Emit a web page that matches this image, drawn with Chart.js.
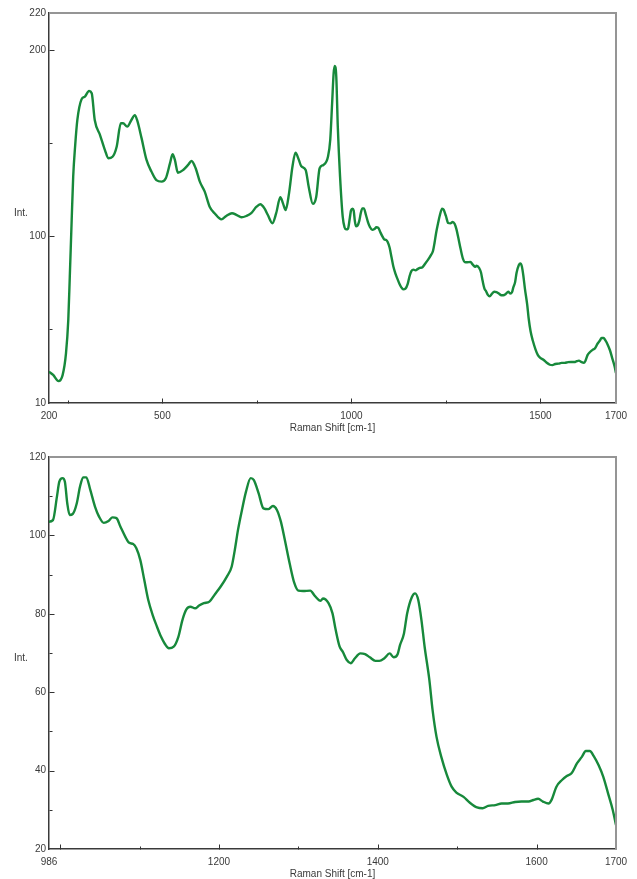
<!DOCTYPE html>
<html>
<head>
<meta charset="utf-8">
<script src="https://cdn.jsdelivr.net/npm/chart.js@4.4.1/dist/chart.umd.min.js"></script>
<style>
  html, body { margin: 0; padding: 0; background: #fff; overflow: hidden; }
  .panel { position: absolute; left: 0; width: 637px; }
</style>
</head>
<body>
<div class="panel" style="top:0;height:440px"><canvas id="fullChart"></canvas></div>
<div class="panel" style="top:440px;height:446px"><canvas id="zoomChart"></canvas></div>
<script>
// Raman spectrum
const ramanShift = [
  200, 211, 225, 236, 245, 251, 255, 260, 264, 269, 275, 286, 295, 306, 313, 321, 335, 348, 357, 368,
  379, 390, 396, 407, 418, 427, 433, 445, 458, 471, 484, 498, 509, 520, 527, 533, 541, 555, 568, 577,
  588, 599, 612, 625, 638, 656, 669, 684, 697, 709, 722, 735, 749, 759, 770, 779, 791, 801, 812, 819,
  826, 835, 844, 852, 861, 867, 879, 887, 898, 907, 916, 926, 938, 944, 949, 953, 956, 960, 964, 970,
  977, 982, 986, 991, 996, 999, 1003, 1006, 1009, 1012, 1016, 1021, 1025, 1029, 1033, 1038, 1044, 1049, 1055, 1061,
  1066, 1071, 1076, 1082, 1087, 1092, 1096, 1101, 1106, 1111, 1117, 1122, 1127, 1132, 1137, 1143, 1149, 1154, 1159, 1164,
  1170, 1175, 1181, 1188, 1195, 1202, 1210, 1216, 1220, 1224, 1229, 1234, 1240, 1244, 1250, 1256, 1262, 1268, 1273, 1278,
  1283, 1289, 1295, 1300, 1306, 1315, 1321, 1328, 1331, 1338, 1343, 1347, 1352, 1356, 1361, 1366, 1371, 1378, 1384, 1390,
  1397, 1402, 1408, 1415, 1420, 1425, 1428, 1433, 1437, 1443, 1447, 1451, 1455, 1459, 1465, 1469, 1474, 1480, 1487, 1493,
  1499, 1508, 1516, 1525, 1532, 1539, 1548, 1556, 1564, 1573, 1581, 1590, 1596, 1602, 1608, 1615, 1619, 1625, 1632, 1638,
  1644, 1651, 1657, 1662, 1667, 1672, 1678, 1684, 1690, 1696, 1700
];
const intensity = [
  26.9, 25.1, 21.8, 25.0, 36.8, 54.7, 78.0, 108.5, 131.9, 148.0, 162.4, 173.5, 175.0, 178.0, 176.8, 162.4, 154.3, 146.2, 141.8, 142.6,
  148.0, 160.6, 160.6, 158.8, 162.4, 165.0, 162.4, 152.5, 140.9, 134.6, 130.0, 129.2, 131.0, 139.0, 144.0, 140.9, 134.0, 135.5, 138.2, 140.3,
  136.4, 129.2, 123.8, 115.7, 112.2, 108.9, 110.7, 112.2, 111.2, 110.0, 110.7, 112.2, 115.7, 117.0, 114.8, 111.2, 106.8, 112.2, 120.8, 117.5,
  113.9, 122.9, 137.2, 144.8, 140.9, 137.6, 135.5, 126.5, 117.2, 121.1, 136.4, 138.2, 142.6, 151.6, 171.4, 187.5, 191.5, 185.7, 158.8, 131.9,
  110.3, 104.5, 103.5, 103.9, 109.9, 113.7, 114.6, 113.7, 108.2, 105.2, 105.5, 108.2, 112.4, 114.8, 114.8, 111.6, 107.3, 104.8, 103.2, 103.7,
  104.6, 104.4, 102.2, 99.7, 98.1, 97.8, 96.7, 93.7, 88.6, 83.5, 79.4, 76.7, 74.2, 72.3, 71.2, 71.6, 74.2, 78.4, 81.1, 81.8,
  81.4, 82.1, 82.7, 83.1, 85.0, 86.9, 89.5, 92.0, 96.3, 101.4, 106.5, 111.1, 114.6, 114.1, 110.7, 106.9, 106.7, 107.5, 106.5, 103.5,
  98.8, 92.9, 87.8, 85.9, 85.8, 85.9, 84.5, 83.3, 83.9, 82.7, 80.1, 75.9, 71.6, 70.3, 68.2, 67.4, 68.6, 69.9, 69.7, 68.9,
  68.0, 68.0, 68.6, 69.9, 68.9, 69.7, 72.0, 75.0, 80.1, 84.3, 85.2, 83.5, 78.4, 71.6, 63.1, 55.5, 48.6, 43.5, 38.9, 35.9,
  34.4, 33.3, 31.8, 30.6, 30.4, 31.0, 31.2, 31.6, 31.6, 32.0, 32.1, 32.1, 32.5, 32.8, 32.1, 31.6, 32.6, 35.9, 37.6, 38.6,
  39.3, 41.9, 43.5, 45.0, 45.0, 43.7, 41.4, 38.4, 34.2, 29.9, 26.1
];

// tick labels and tick marks
const fullXLabels = [200, 500, 1000, 1500, 1700];
const fullYLabels = [10, 100, 200, 220];
const fullXMajor = [500, 1000, 1500];
const fullXMinor = [250, 750, 1250];
const fullYMajor = [100, 200];
const fullYMinor = [50, 150];

const zoomXLabels = [986, 1200, 1400, 1600, 1700];
const zoomYLabels = [20, 40, 60, 80, 100, 120];
const zoomXMajor = [1000, 1200, 1400, 1600];
const zoomXMinor = [1100, 1300, 1500];
const zoomYMajor = [40, 60, 80, 100];
const zoomYMinor = [30, 50, 70, 90, 110];

const LINE_COLOR = '#17893b';
const TEXT_COLOR = '#3a3a3a';
const FONT = { family: '"Liberation Sans", Arial, sans-serif', size: 10 };

const spectrum = ramanShift.map((x, i) => ({ x: x, y: intensity[i] }));

// top/right frame, inward tick marks and the "Int." label
const framePlugin = {
  id: 'frame',
  afterDraw(chart, args, opts) {
    const { ctx, chartArea: a } = chart;
    const xs = chart.scales.x, ys = chart.scales.y;
    ctx.save();
    ctx.strokeStyle = '#959595';
    ctx.lineWidth = 2;
    ctx.beginPath();
    ctx.moveTo(a.left, a.top);
    ctx.lineTo(a.right, a.top);
    ctx.lineTo(a.right, a.bottom);
    ctx.stroke();

    ctx.strokeStyle = '#333';
    ctx.lineWidth = 1;
    const mark = (x1, y1, x2, y2) => {
      ctx.beginPath();
      ctx.moveTo(Math.round(x1) + 0.5, Math.round(y1) + 0.5);
      ctx.lineTo(Math.round(x2) + 0.5, Math.round(y2) + 0.5);
      ctx.stroke();
    };
    opts.xMajor.forEach(v => { const p = xs.getPixelForValue(v); mark(p, a.bottom, p, a.bottom - 5); });
    opts.xMinor.forEach(v => { const p = xs.getPixelForValue(v); mark(p, a.bottom, p, a.bottom - 3); });
    opts.yMajor.forEach(v => { const p = ys.getPixelForValue(v); mark(a.left, p, a.left + 5, p); });
    opts.yMinor.forEach(v => { const p = ys.getPixelForValue(v); mark(a.left, p, a.left + 3, p); });

    ctx.fillStyle = TEXT_COLOR;
    ctx.font = FONT.size + 'px ' + FONT.family;
    ctx.textAlign = 'left';
    ctx.textBaseline = 'middle';
    ctx.fillText('Int.', 14, (a.top + a.bottom) / 2 + 5);
    ctx.restore();
  }
};

function makeChart(canvasId, cfg) {
  return new Chart(document.getElementById(canvasId), {
    type: 'line',
    data: {
      datasets: [{
        data: spectrum,
        borderColor: LINE_COLOR,
        borderWidth: 2.4,
        pointRadius: 0,
        cubicInterpolationMode: 'monotone',
        fill: false
      }]
    },
    options: {
      responsive: true,
      maintainAspectRatio: false,
      animation: false,
      parsing: false,
      layout: { padding: { top: cfg.top, right: 21, left: 0, bottom: 0 } },
      plugins: {
        legend: { display: false },
        tooltip: { enabled: false },
        frame: cfg.marks
      },
      scales: {
        x: {
          type: 'linear',
          min: cfg.xMin,
          max: cfg.xMax,
          grid: { display: false, drawTicks: false },
          border: { color: '#3a3a3a', width: 1.5 },
          ticks: {
            color: TEXT_COLOR, font: FONT, padding: 7, maxRotation: 0, autoSkip: false,
            callback: v => String(v)
          },
          title: {
            display: true,
            text: 'Raman Shift [cm-1]',
            color: TEXT_COLOR,
            font: FONT,
            padding: { top: 0, bottom: 6 }
          },
          afterBuildTicks: s => { s.ticks = cfg.xLabels.map(v => ({ value: v })); },
          afterFit: s => { s.height = 37; }
        },
        y: {
          type: 'linear',
          min: cfg.yMin,
          max: cfg.yMax,
          grid: { display: false, drawTicks: false },
          border: { color: '#3a3a3a', width: 1.5 },
          ticks: {
            color: TEXT_COLOR, font: FONT, padding: 3, autoSkip: false,
            callback: v => String(v)
          },
          afterBuildTicks: s => { s.ticks = cfg.yLabels.map(v => ({ value: v })); },
          afterFit: s => { s.width = 49; }
        }
      }
    },
    plugins: [framePlugin]
  });
}

makeChart('fullChart', {
  top: 13, xMin: 200, xMax: 1700, yMin: 10, yMax: 220,
  xLabels: fullXLabels, yLabels: fullYLabels,
  marks: { xMajor: fullXMajor, xMinor: fullXMinor, yMajor: fullYMajor, yMinor: fullYMinor }
});

makeChart('zoomChart', {
  top: 17, xMin: 986, xMax: 1700, yMin: 20, yMax: 120,
  xLabels: zoomXLabels, yLabels: zoomYLabels,
  marks: { xMajor: zoomXMajor, xMinor: zoomXMinor, yMajor: zoomYMajor, yMinor: zoomYMinor }
});
</script>
</body>
</html>
